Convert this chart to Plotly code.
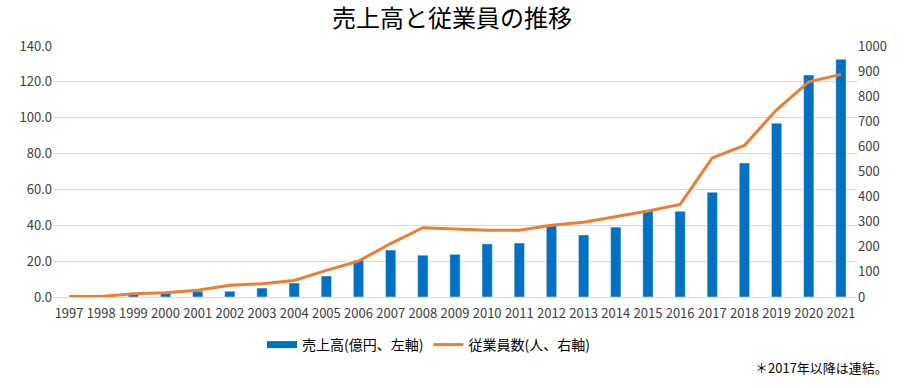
import plotly.graph_objects as go

years = [str(y) for y in range(1997, 2022)]
sales = [0.0, 0.0, 1.9, 2.4, 3.2, 3.2, 5.0, 7.8, 11.7, 20.5, 26.2, 23.3, 23.8,
         29.6, 30.1, 40.0, 34.6, 39.0, 48.4, 47.8, 58.4, 74.7, 96.9, 123.8, 132.6]
employees = [2, 2, 13, 17, 27, 47, 53, 66, 106, 143, 213, 276, 271,
             266, 266, 286, 298, 319, 343, 369, 554, 604, 746, 857, 887]

FONT = "Noto Sans CJK JP, Noto Sans, sans-serif"
BLUE = "#0070C0"
ORANGE = "#ED7D31"
W, H = 904, 388

fig = go.Figure()
fig.add_trace(go.Bar(x=years, y=sales, name="売上高(億円、左軸)",
                     marker_color=BLUE, width=0.32, yaxis="y", showlegend=False))
# legend entry for the bars drawn as a wide rectangle like the reference
fig.add_trace(go.Scatter(x=[None], y=[None], name="売上高(億円、左軸)", mode="lines",
                         line=dict(color=BLUE, width=7), yaxis="y"))
fig.add_trace(go.Scatter(x=years, y=employees, name="従業員数(人、右軸)",
                         mode="lines", line=dict(color=ORANGE, width=3),
                         yaxis="y2"))

fig.update_layout(
    width=W, height=H,
    margin=dict(l=53, r=47, t=46, b=91, autoexpand=False),
    paper_bgcolor="white", plot_bgcolor="white",
    font=dict(family=FONT, size=13, color="#404040"),
    title=dict(text="売上高と従業員の推移", x=0.5, xanchor="center",
               y=1 - 19 / H, yanchor="middle",
               font=dict(size=24, color="#000000", family=FONT)),
    xaxis=dict(type="category", showgrid=False, showline=True, automargin=False,
               linecolor="#d9d9d9", ticks="", ticklabelstandoff=4,
               tickfont=dict(size=13, color="#404040")),
    yaxis=dict(range=[0, 140], dtick=20, tickformat=".1f", showgrid=True,
               gridcolor="#d9d9d9", zeroline=False, ticks="", automargin=False,
               tickfont=dict(size=13, color="#404040")),
    yaxis2=dict(range=[0, 1000], dtick=100, overlaying="y", side="right",
                showgrid=False, zeroline=False, ticks="", automargin=False,
                tickfont=dict(size=13, color="#404040")),
    legend=dict(orientation="h", xref="container", yref="container",
                x=262 / W, xanchor="left", y=1 - 345 / H, yanchor="middle",
                font=dict(size=14, color="#000000"), itemwidth=30,
                traceorder="normal"),
    annotations=[dict(text="＊2017年以降は連結。", xref="paper", yref="paper",
                      x=(890 - 53) / 804, y=-(367 - 297) / 251, xanchor="right",
                      yanchor="middle", showarrow=False,
                      font=dict(size=13, color="#000000"))],
)

fig.write_html("out.html", config={"displayModeBar": False},
               post_script="document.body.style.margin='0';document.body.style.overflow='hidden';")
